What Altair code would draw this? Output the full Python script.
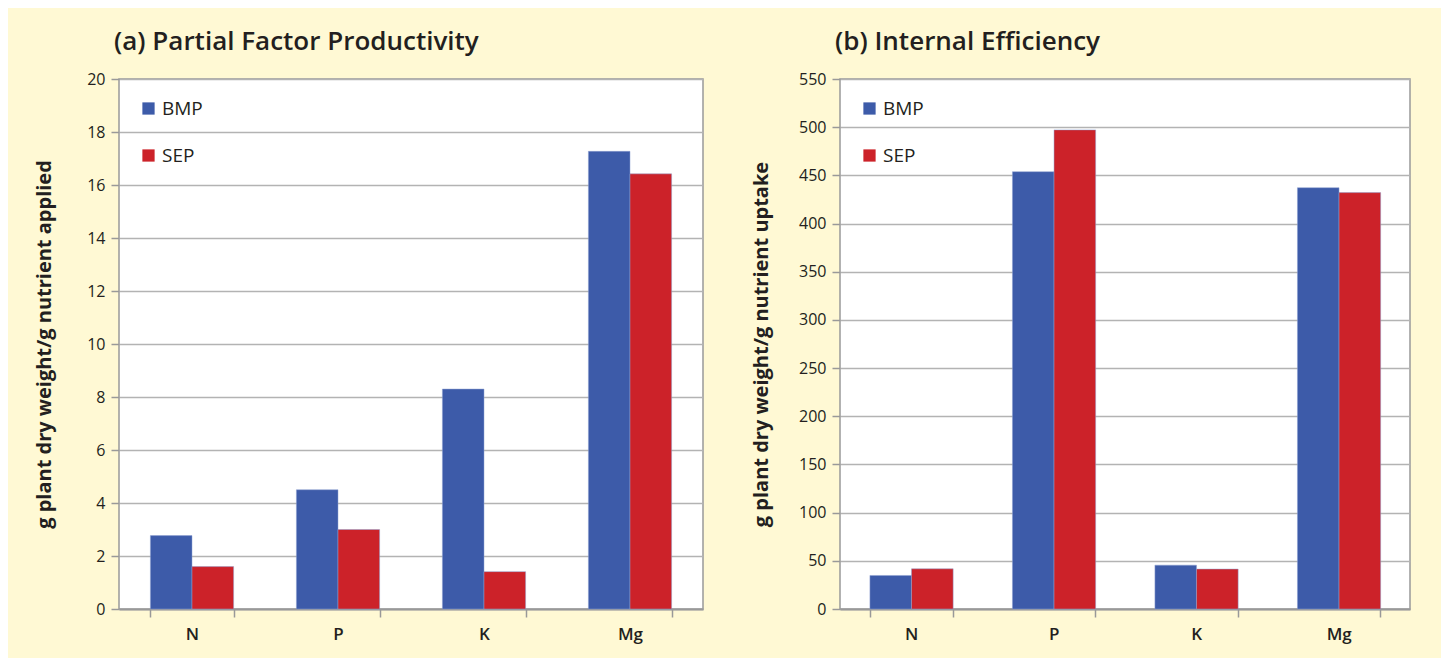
import altair as alt
import pandas as pd

nutrients = ["N", "P", "K", "Mg"]
series = ["BMP", "SEP"]
pfp_bmp = [2.77, 4.5, 8.3, 17.27]
pfp_sep = [1.6, 3.0, 1.41, 16.42]
ie_bmp = [34.8, 453.8, 45.5, 437.2]
ie_sep = [41.7, 497.2, 41.4, 432.1]

colors = ["#3D5BA9", "#CC2229"]
FONT = "Open Sans"
TXT = "#231F20"


def make_df(bmp, sep):
    rows = []
    for i, n in enumerate(nutrients):
        rows.append({"nutrient": n, "series": "BMP", "value": bmp[i]})
        rows.append({"nutrient": n, "series": "SEP", "value": sep[i]})
    return pd.DataFrame(rows)


def panel(df, title, ytitle, ymax, ystep, width, pad, tpad):
    return alt.Chart(df).mark_bar(stroke="#8FA0D0", strokeWidth=0.5).encode(
        x=alt.X("nutrient:N", sort=nutrients, title=None,
                scale=alt.Scale(paddingInner=pad, paddingOuter=pad / 2),
                axis=alt.Axis(labelAngle=0, tickBand="extent", ticks=True, tickSize=8,
                              tickColor="#999999", tickWidth=1.5,
                              domainColor="#999999", domainWidth=2,
                              grid=False, labelPadding=9, labelFontSize=17,
                              labelColor=TXT, labelFont=FONT, labelFontWeight=600)),
        xOffset=alt.XOffset("series:N", sort=series),
        y=alt.Y("value:Q", scale=alt.Scale(domain=[0, ymax], nice=False),
                axis=alt.Axis(values=list(range(0, ymax + 1, ystep)), grid=True,
                              gridColor="#B3B3B3", gridWidth=1.5,
                              domain=False, tickSize=8, tickColor="#999999", tickWidth=1.5,
                              labelFontSize=16, labelColor=TXT, labelFont=FONT,
                              labelFontWeight=500,
                              labelPadding=6, title=ytitle, titleFont=FONT,
                              titleFontSize=20, titleFontWeight="bold", titleColor=TXT,
                              titlePadding=tpad)),
        color=alt.Color("series:N", scale=alt.Scale(domain=series, range=colors),
                        legend=alt.Legend(title=None, orient="top-left", offset=20,
                                          symbolType="square", symbolSize=150,
                                          symbolStrokeWidth=0, labelFontSize=19,
                                          labelFont=FONT, labelColor=TXT,
                                          rowPadding=27, padding=0))
    ).properties(
        width=width, height=530,
        title=alt.Title(title, anchor="start", frame="group", fontSize=26, font=FONT,
                        fontWeight=600, color=TXT, dx=-5, offset=16)
    )


left = panel(make_df(pfp_bmp, pfp_sep), "(a) Partial Factor Productivity",
             "g plant dry weight/g nutrient applied", 20, 2, 584, 0.43, 32)
right = panel(make_df(ie_bmp, ie_sep), "(b) Internal Efficiency",
              "g plant dry weight/g nutrient uptake", 550, 50, 570, 0.42, 27)

chart = alt.hconcat(left, right, spacing=46).resolve_scale(
    color="independent", y="independent", x="independent"
).resolve_legend(color="independent").properties(
    background="#FFF9D4",
    padding={"left": 25, "top": 20, "right": 30, "bottom": 20}
).configure_view(fill="white", stroke="#999999", strokeWidth=1.5)

chart.save("out.html", embed_options={"renderer": "svg", "actions": False})
